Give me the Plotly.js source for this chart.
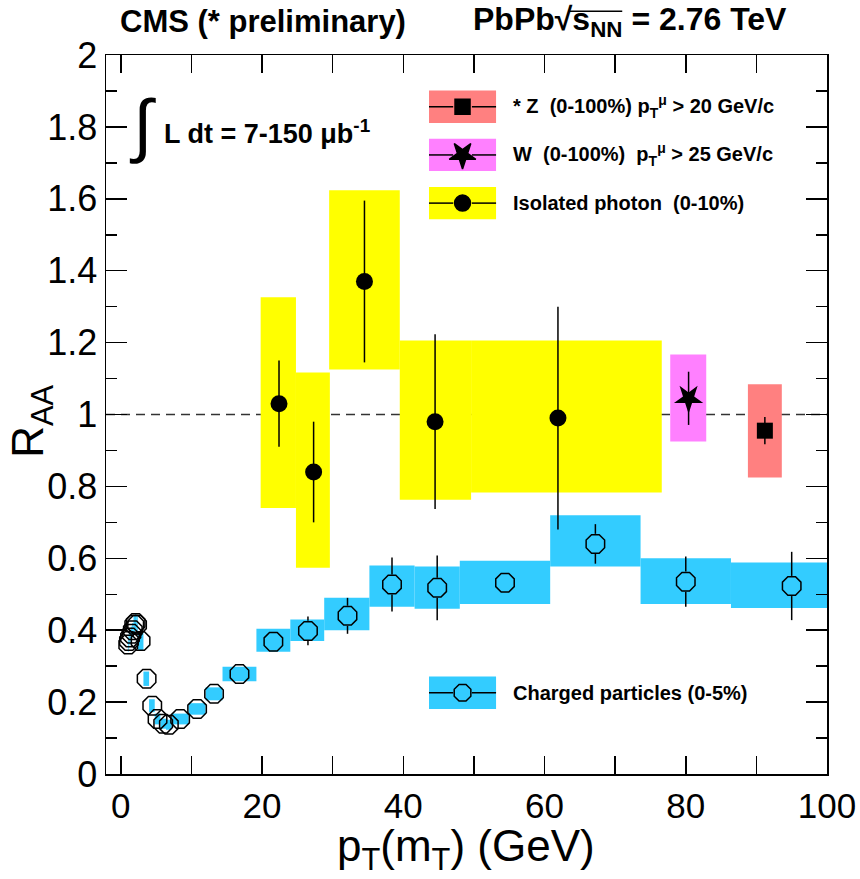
<!DOCTYPE html>
<html><head><meta charset="utf-8">
<script src="https://cdn.plot.ly/plotly-3.0.1.min.js"></script>
<style>body{margin:0;background:#fff}</style>
</head><body><div id="chart" style="width:860px;height:879px"></div>
<script>
// ---- Charged particles (0-5%) ----
const chargedX    = [1.05,1.15,1.3,1.5,1.7,1.9,2.1,2.3,2.8,3.65,4.45,5.2,6.0,6.8,8.4,10.8,13.2,16.8,21.6,26.5,32.1,38.4,44.8,54.4,67.2,80.0,95.0];
const chargedY    = [0.36,0.37,0.38,0.39,0.40,0.415,0.42,0.415,0.37,0.265,0.19,0.153,0.14,0.137,0.153,0.181,0.223,0.278,0.368,0.398,0.44,0.527,0.518,0.532,0.64,0.535,0.523];
const chargedStat = [0.005,0.005,0.005,0.005,0.005,0.005,0.005,0.005,0.005,0.005,0.005,0.005,0.005,0.005,0.005,0.005,0.006,0.008,0.012,0.04,0.05,0.075,0.09,0.02,0.055,0.07,0.095];
const chargedBinLo = [1.0,1.1,1.2,1.4,1.6,1.8,2.0,2.2,2.4,3.2,4.0,4.8,5.6,6.4,7.2,9.6,12.0,14.4,19.2,24.0,28.8,35.2,41.6,48.0,60.8,73.6,86.4];
const chargedBinHi = [1.1,1.2,1.4,1.6,1.8,2.0,2.2,2.4,3.2,4.0,4.8,5.6,6.4,7.2,9.6,12.0,14.4,19.2,24.0,28.8,35.2,41.6,48.0,60.8,73.6,86.4,103.6];
const chargedSysLo = [0.34,0.35,0.36,0.37,0.38,0.39,0.40,0.39,0.345,0.245,0.172,0.138,0.126,0.123,0.138,0.165,0.205,0.258,0.340,0.37,0.40,0.465,0.46,0.473,0.577,0.473,0.462];
const chargedSysHi = [0.38,0.39,0.40,0.41,0.42,0.44,0.445,0.44,0.395,0.285,0.208,0.168,0.154,0.151,0.168,0.197,0.241,0.298,0.404,0.43,0.49,0.58,0.577,0.593,0.72,0.60,0.588];

// ---- Isolated photon (0-10%) ----
const photonX     = [22.4,27.3,34.5,44.5,61.9];
const photonY     = [1.03,0.84,1.37,0.98,0.99];
const photonStat  = [0.12,0.14,0.225,0.243,0.31];
const photonBinLo = [19.8,24.8,29.5,39.5,49.6];
const photonBinHi = [24.8,29.6,39.5,49.6,76.6];
const photonSysLo = [0.74,0.574,1.125,0.763,0.783];
const photonSysHi = [1.326,1.117,1.624,1.206,1.206];

// ---- W (0-100%) ----
const wX = [80.4], wY = [1.045], wStat = [0.074];
const wBinLo = [77.8], wBinHi = [82.9], wSysLo = [0.925], wSysHi = [1.167];

// ---- Z (0-100%) ----
const zX = [91.2], zY = [0.955], zStat = [0.038];
const zBinLo = [88.8], zBinHi = [93.6], zSysLo = [0.825], zSysHi = [1.084];

// ---- axis ticks ----
const xTickVals = [0,20,40,60,80,100];
const xTickText = ['0','20','40','60','80','100'];
const yTickVals = [0,0.2,0.4,0.6,0.8,1,1.2,1.4,1.6,1.8,2];
const yTickText = ['0','0.2','0.4','0.6','0.8','1','1.2','1.4','1.6','1.8','2'];

// ---- legend entries ----
const legendLabels = [
  '* Z\u00a0\u00a0(0-100%) p<sub>T</sub><sup>μ</sup> > 20 GeV/c',
  'W\u00a0\u00a0(0-100%)\u00a0\u00a0p<sub>T</sub><sup>μ</sup> > 25 GeV/c',
  'Isolated photon\u00a0\u00a0(0-10%)',
  'Charged particles (0-5%)'
];
const legendColors  = ['#ff8080','#ff80ff','#ffff00','#33ccff'];
const legendSymbols = ['square','star','circle','octagon-open'];
const legendSizes   = [15,20,16,18];
const legendAngles  = [0,180,0,0];
const legendYc      = [0.928,0.861,0.794,0.113];

const FONT = 'Liberation Sans, Arial, Helvetica, sans-serif';
const shapes = [];
function boxes(lo, hi, ylo, yhi, color){
  for (let i=0;i<lo.length;i++){
    shapes.push({type:'rect', xref:'x', yref:'y', x0:lo[i], x1:hi[i], y0:ylo[i], y1:yhi[i],
      fillcolor:color, line:{width:0}, layer:'below'});
  }
}
boxes(chargedBinLo, chargedBinHi, chargedSysLo, chargedSysHi, '#33ccff');
boxes(photonBinLo, photonBinHi, photonSysLo, photonSysHi, '#ffff00');
boxes(wBinLo, wBinHi, wSysLo, wSysHi, '#ff80ff');
boxes(zBinLo, zBinHi, zSysLo, zSysHi, '#ff8080');
// unity line
shapes.push({type:'line', xref:'paper', yref:'y', x0:0, x1:1, y0:1, y1:1,
  line:{color:'#333', width:1.5, dash:'9px,6px'}, layer:'below'});

// legend boxes and lines (paper coords)
const lgX0 = 0.448, lgX1 = 0.541, lgXc = 0.4945, lgHalfH = 0.0225, lgR = 0.013;
for (let i=0;i<legendLabels.length;i++){
  shapes.push({type:'rect', xref:'paper', yref:'paper', x0:lgX0, x1:lgX1,
    y0:legendYc[i]-lgHalfH, y1:legendYc[i]+lgHalfH, fillcolor:legendColors[i], line:{width:0}, layer:'below'});
  shapes.push({type:'line', xref:'paper', yref:'paper', x0:lgX0, x1:lgXc-lgR, y0:legendYc[i], y1:legendYc[i],
    line:{color:'#000', width:1.5}, layer:'below'});
  shapes.push({type:'line', xref:'paper', yref:'paper', x0:lgXc+lgR, x1:lgX1, y0:legendYc[i], y1:legendYc[i],
    line:{color:'#000', width:1.5}, layer:'below'});
}
// overline of the square root
shapes.push({type:'line', xref:'paper', yref:'paper', x0:0.6435, x1:0.716, y0:1.061, y1:1.061,
  line:{color:'#000', width:1.5}});

// charged error bars with gap at marker
const rData = 0.028;
const ebx = [], eby = [];
for (let i=0;i<chargedX.length;i++){
  if (chargedStat[i] > rData){
    ebx.push(chargedX[i], chargedX[i], null, chargedX[i], chargedX[i], null);
    eby.push(chargedY[i]+rData, chargedY[i]+chargedStat[i], null, chargedY[i]-rData, chargedY[i]-chargedStat[i], null);
  }
}

const traces = [
  {x: ebx, y: eby, mode:'lines', line:{color:'#000', width:1.5}, hoverinfo:'skip', showlegend:false},
  {x: chargedX, y: chargedY, mode:'markers', showlegend:false,
   marker:{symbol:'octagon-open', size:20, opacity:1, color:'#000', line:{color:'#000', width:1.5}}},
  {x: photonX, y: photonY, mode:'markers', showlegend:false,
   error_y:{type:'data', array:photonStat, color:'#000', thickness:1.5, width:0},
   marker:{symbol:'circle', size:17, opacity:1, color:'#000'}},
  {x: wX, y: wY, mode:'markers', showlegend:false,
   error_y:{type:'data', array:wStat, color:'#000', thickness:1.5, width:0},
   marker:{symbol:'star', size:22, angle:180, opacity:1, color:'#000'}},
  {x: zX, y: zY, mode:'markers', showlegend:false,
   error_y:{type:'data', array:zStat, color:'#000', thickness:1.5, width:0},
   marker:{symbol:'square', size:16, opacity:1, color:'#000'}},
  {x: legendYc.map(()=>lgXc), y: legendYc, xaxis:'x2', yaxis:'y2', mode:'markers', showlegend:false, hoverinfo:'skip',
   marker:{symbol:legendSymbols, size:legendSizes, angle:legendAngles, opacity:1, color:'#000', line:{color:'#000', width:1.5}}}
];

const annotations = [];
for (let i=0;i<legendLabels.length;i++){
  annotations.push({xref:'paper', yref:'paper', x:0.562, y:legendYc[i], xanchor:'left', yanchor:'middle',
    text:'<b>'+legendLabels[i]+'</b>', showarrow:false, font:{family:FONT, size:20, color:'#000'}});
}
annotations.push(
  {xref:'paper', yref:'paper', x:0.017, y:1.046, xanchor:'left', yanchor:'middle', showarrow:false,
   text:'<b>CMS (* preliminary)</b>', font:{family:FONT, size:31, color:'#000'}},
  {xref:'paper', yref:'paper', x:0.506, y:1.046, xanchor:'left', yanchor:'middle', showarrow:false,
   text:'<b>PbPb√s<sub>NN</sub> = 2.76 TeV</b>', font:{family:FONT, size:32, color:'#000'}},
  {xref:'paper', yref:'paper', x:0.05, y:0.902, xanchor:'center', yanchor:'middle', showarrow:false,
   text:'∫', font:{family:FONT, size:70, color:'#000'}},
  {xref:'paper', yref:'paper', x:0.078, y:0.893, xanchor:'left', yanchor:'middle', showarrow:false,
   text:'<b>L dt = 7-150 μb<sup>-1</sup></b>', font:{family:FONT, size:27, color:'#000'}},
  {xref:'paper', yref:'paper', x:-0.104, y:0.49, xanchor:'center', yanchor:'middle', showarrow:false, textangle:-90,
   text:'R<sub>AA</sub>', font:{family:FONT, size:44, color:'#000'}},
  {xref:'paper', yref:'paper', x:0.499, y:-0.104, xanchor:'center', yanchor:'middle', showarrow:false,
   text:'p<sub>T</sub>(m<sub>T</sub>) (GeV)', font:{family:FONT, size:44, color:'#000'}}
);

const layout = {
  width:860, height:879,
  margin:{l:106, r:33, t:55, b:105},
  paper_bgcolor:'#fff', plot_bgcolor:'#fff',
  showlegend:false,
  font:{family:FONT, color:'#000'},
  xaxis:{range:[-2.1,100], showgrid:false, zeroline:false, showline:true, linecolor:'#000', linewidth:1.5,
    mirror:'ticks', ticks:'inside', ticklen:18, tickwidth:1.5, tickcolor:'#000',
    tickmode:'array', tickvals:xTickVals, ticktext:xTickText,
    tickfont:{family:FONT, size:35, color:'#000'},
    minor:{dtick:10, tick0:0, ticks:'inside', ticklen:18, tickwidth:1.5, tickcolor:'#000', showgrid:false}},
  yaxis:{range:[0,2], showgrid:false, zeroline:false, showline:true, linecolor:'#000', linewidth:1.5,
    mirror:'ticks', ticks:'inside', ticklen:21, tickwidth:1.5, tickcolor:'#000',
    tickmode:'array', tickvals:yTickVals, ticktext:yTickText,
    tickfont:{family:FONT, size:36, color:'#000'},
    minor:{dtick:0.1, tick0:0, ticks:'inside', ticklen:11, tickwidth:1.5, tickcolor:'#000', showgrid:false}},
  xaxis2:{overlaying:'x', range:[0,1], visible:false, fixedrange:true},
  yaxis2:{overlaying:'y', range:[0,1], visible:false, fixedrange:true},
  shapes: shapes,
  annotations: annotations
};
Plotly.newPlot('chart', traces, layout, {displayModeBar:false, staticPlot:true});
</script></body></html>
